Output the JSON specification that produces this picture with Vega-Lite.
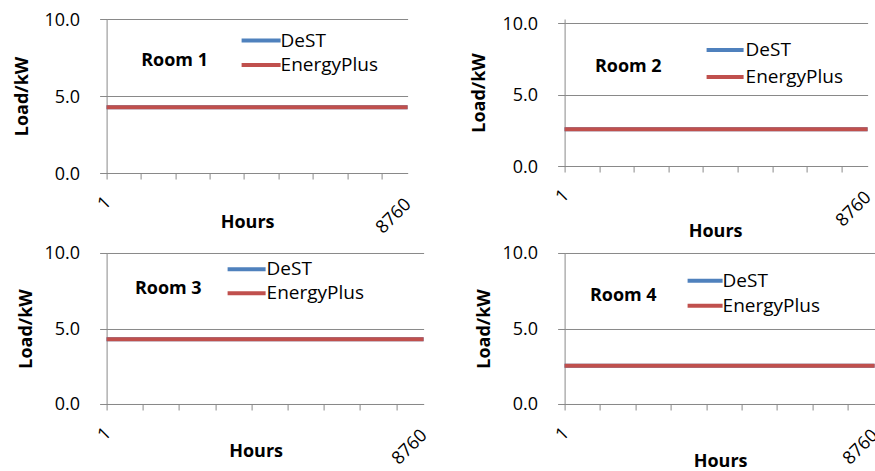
{
  "$schema": "https://vega.github.io/schema/vega-lite/v6.json",
  "padding": {"left": 13.6, "top": 11, "right": 0, "bottom": 0},
  "datasets": {
    "loads": [
      {"room": "Room 1", "series": "DeST", "hour": 1, "load": 4.27},
      {"room": "Room 1", "series": "DeST", "hour": 8760, "load": 4.27},
      {"room": "Room 1", "series": "EnergyPlus", "hour": 1, "load": 4.27},
      {"room": "Room 1", "series": "EnergyPlus", "hour": 8760, "load": 4.27},
      {"room": "Room 2", "series": "DeST", "hour": 1, "load": 2.57},
      {"room": "Room 2", "series": "DeST", "hour": 8760, "load": 2.57},
      {"room": "Room 2", "series": "EnergyPlus", "hour": 1, "load": 2.57},
      {"room": "Room 2", "series": "EnergyPlus", "hour": 8760, "load": 2.57},
      {"room": "Room 3", "series": "DeST", "hour": 1, "load": 4.29},
      {"room": "Room 3", "series": "DeST", "hour": 8760, "load": 4.29},
      {"room": "Room 3", "series": "EnergyPlus", "hour": 1, "load": 4.29},
      {"room": "Room 3", "series": "EnergyPlus", "hour": 8760, "load": 4.29},
      {"room": "Room 4", "series": "DeST", "hour": 1, "load": 2.53},
      {"room": "Room 4", "series": "DeST", "hour": 8760, "load": 2.53},
      {"room": "Room 4", "series": "EnergyPlus", "hour": 1, "load": 2.53},
      {"room": "Room 4", "series": "EnergyPlus", "hour": 8760, "load": 2.53}
    ]
  },
  "columns": 2,
  "spacing": {"column": 141, "row": 80},
  "bounds": "flush",
  "align": "all",
  "resolve": {"scale": {"color": "independent"}, "legend": {"color": "independent"}},
  "concat": [
    {
      "width": 301, "height": 154,
      "layer": [
        {
          "data": {"name": "loads"},
          "transform": [{"filter": "datum.room === 'Room 1'"}],
          "mark": {"type": "line", "strokeWidth": 4},
          "encoding": {
            "x": {"field": "hour", "type": "quantitative",
              "scale": {"domain": [1, 8760], "nice": false, "zero": false},
              "axis": {"title": "Hours", "values": [1, 1001, 2001, 3001, 4001, 5001, 6001, 7001, 8001, 8760], "tickCount": 100, "format": "d",
                "labelExpr": "datum.value == 1 ? '1' : (datum.value == 8760 ? '8760' : '')",
                "grid": false, "tickSize": 6,
                "tickOpacity": {"condition": {"test": "datum.value == 8760", "value": 0}, "value": 1},
                "labelOffset": {"condition": {"test": "datum.value == 1", "value": -5}, "value": -6},
                "labelPadding": {"condition": {"test": "datum.value == 1", "value": 14}, "value": 16},
                "labelAngle": -45, "labelAlign": "right", "labelBaseline": "top",
                "titleX": 140.5, "titleY": 54, "titleBaseline": "alphabetic", "titleAlign": "center"}},
            "y": {"field": "load", "type": "quantitative",
              "scale": {"domain": [0, 10], "nice": false},
              "axis": {"title": "Load/kW", "values": [0, 5, 10], "tickCount": 100, "format": ".1f", "grid": true, "tickSize": 7, "labelPadding": 20, "labelOffset": 1,
                "titleX": -78.7, "titleBaseline": "alphabetic", "titleAngle": -90, "titleAlign": "center"}},
            "color": {"field": "series", "type": "nominal",
              "scale": {"domain": ["DeST", "EnergyPlus"], "range": ["#4F81BD", "#C0504D"]},
              "legend": {"title": null, "orient": "none", "legendX": 133, "legendY": 11.5, "symbolSize": 1521, "labelOffset": -2, "rowPadding": 4.5, "clipHeight": 20}}
          }
        },
        {
          "data": {"values": [{"label": "Room 1"}]},
          "mark": {"type": "text", "align": "left", "baseline": "middle", "font": "Open Sans", "fontWeight": "bold", "fontSize": 18, "color": "#000000"},
          "encoding": {"x": {"datum": 1008, "type": "quantitative"}, "y": {"datum": 7.28, "type": "quantitative"}, "text": {"field": "label"}}
        }
      ]
    },
    {
      "width": 303, "height": 147,
      "layer": [
        {
          "data": {"name": "loads"},
          "transform": [{"filter": "datum.room === 'Room 2'"}],
          "mark": {"type": "line", "strokeWidth": 4},
          "encoding": {
            "x": {"field": "hour", "type": "quantitative",
              "scale": {"domain": [1, 8760], "nice": false, "zero": false},
              "axis": {"title": "Hours", "values": [1, 1001, 2001, 3001, 4001, 5001, 6001, 7001, 8001, 8760], "tickCount": 100, "format": "d",
                "labelExpr": "datum.value == 1 ? '1' : (datum.value == 8760 ? '8760' : '')",
                "grid": false, "tickSize": 6,
                "tickOpacity": {"condition": {"test": "datum.value == 8760", "value": 0}, "value": 1},
                "labelOffset": {"condition": {"test": "datum.value == 1", "value": -5}, "value": -6},
                "labelPadding": {"condition": {"test": "datum.value == 1", "value": 14}, "value": 16},
                "labelAngle": -45, "labelAlign": "right", "labelBaseline": "top",
                "titleX": 150.5, "titleY": 71, "titleBaseline": "alphabetic", "titleAlign": "center"}},
            "y": {"field": "load", "type": "quantitative",
              "scale": {"domain": [0, 10.28], "nice": false},
              "axis": {"title": "Load/kW", "values": [0, 5, 10], "tickCount": 100, "format": ".1f", "grid": true, "tickSize": 7, "labelPadding": 20, "labelOffset": 1,
                "titleX": -80, "titleBaseline": "alphabetic", "titleAngle": -90, "titleAlign": "center"}},
            "color": {"field": "series", "type": "nominal",
              "scale": {"domain": ["DeST", "EnergyPlus"], "range": ["#4F81BD", "#C0504D"]},
              "legend": {"title": null, "orient": "none", "legendX": 140, "legendY": 21, "symbolSize": 1369, "labelOffset": 0, "rowPadding": 7, "clipHeight": 20}}
          }
        },
        {
          "data": {"values": [{"label": "Room 2"}]},
          "mark": {"type": "text", "align": "left", "baseline": "middle", "font": "Open Sans", "fontWeight": "bold", "fontSize": 18, "color": "#000000"},
          "encoding": {"x": {"datum": 877, "type": "quantitative"}, "y": {"datum": 6.9, "type": "quantitative"}, "text": {"field": "label"}}
        }
      ]
    },
    {
      "width": 317, "height": 151,
      "layer": [
        {
          "data": {"name": "loads"},
          "transform": [{"filter": "datum.room === 'Room 3'"}],
          "mark": {"type": "line", "strokeWidth": 4},
          "encoding": {
            "x": {"field": "hour", "type": "quantitative",
              "scale": {"domain": [1, 8760], "nice": false, "zero": false},
              "axis": {"title": "Hours", "values": [1, 1001, 2001, 3001, 4001, 5001, 6001, 7001, 8001, 8760], "tickCount": 100, "format": "d",
                "labelExpr": "datum.value == 1 ? '1' : (datum.value == 8760 ? '8760' : '')",
                "grid": false, "tickSize": 6,
                "tickOpacity": {"condition": {"test": "datum.value == 8760", "value": 0}, "value": 1},
                "labelOffset": {"condition": {"test": "datum.value == 1", "value": -5}, "value": -6},
                "labelPadding": {"condition": {"test": "datum.value == 1", "value": 14}, "value": 16},
                "labelAngle": -45, "labelAlign": "right", "labelBaseline": "top",
                "titleX": 149, "titleY": 53, "titleBaseline": "alphabetic", "titleAlign": "center"}},
            "y": {"field": "load", "type": "quantitative",
              "scale": {"domain": [0, 10], "nice": false},
              "axis": {"title": "Load/kW", "values": [0, 5, 10], "tickCount": 100, "format": ".1f", "grid": true, "tickSize": 7, "labelPadding": 20, "labelOffset": 1,
                "titleX": -75.3, "titleBaseline": "alphabetic", "titleAngle": -90, "titleAlign": "center"}},
            "color": {"field": "series", "type": "nominal",
              "scale": {"domain": ["DeST", "EnergyPlus"], "range": ["#4F81BD", "#C0504D"]},
              "legend": {"title": null, "orient": "none", "legendX": 119, "legendY": 6.3, "symbolSize": 1444, "labelOffset": -1, "rowPadding": 4, "clipHeight": 20}}
          }
        },
        {
          "data": {"values": [{"label": "Room 3"}]},
          "mark": {"type": "text", "align": "left", "baseline": "middle", "font": "Open Sans", "fontWeight": "bold", "fontSize": 18, "color": "#000000"},
          "encoding": {"x": {"datum": 783, "type": "quantitative"}, "y": {"datum": 7.6, "type": "quantitative"}, "text": {"field": "label"}}
        }
      ]
    },
    {
      "width": 310, "height": 151,
      "layer": [
        {
          "data": {"name": "loads"},
          "transform": [{"filter": "datum.room === 'Room 4'"}],
          "mark": {"type": "line", "strokeWidth": 4},
          "encoding": {
            "x": {"field": "hour", "type": "quantitative",
              "scale": {"domain": [1, 8760], "nice": false, "zero": false},
              "axis": {"title": "Hours", "values": [1, 1001, 2001, 3001, 4001, 5001, 6001, 7001, 8001, 8760], "tickCount": 100, "format": "d",
                "labelExpr": "datum.value == 1 ? '1' : (datum.value == 8760 ? '8760' : '')",
                "grid": false, "tickSize": 6,
                "tickOpacity": {"condition": {"test": "datum.value == 8760", "value": 0}, "value": 1},
                "labelOffset": {"condition": {"test": "datum.value == 1", "value": -5}, "value": -6},
                "labelPadding": {"condition": {"test": "datum.value == 1", "value": 14}, "value": 16},
                "labelAngle": -45, "labelAlign": "right", "labelBaseline": "top",
                "titleX": 155.5, "titleY": 63, "titleBaseline": "alphabetic", "titleAlign": "center"}},
            "y": {"field": "load", "type": "quantitative",
              "scale": {"domain": [0, 10], "nice": false},
              "axis": {"title": "Load/kW", "values": [0, 5, 10], "tickCount": 100, "format": ".1f", "grid": true, "tickSize": 7, "labelPadding": 20, "labelOffset": 1,
                "titleX": -75, "titleBaseline": "alphabetic", "titleAngle": -90, "titleAlign": "center"}},
            "color": {"field": "series", "type": "nominal",
              "scale": {"domain": ["DeST", "EnergyPlus"], "range": ["#4F81BD", "#C0504D"]},
              "legend": {"title": null, "orient": "none", "legendX": 121, "legendY": 17.7, "symbolSize": 1225, "labelOffset": -2, "rowPadding": 5, "clipHeight": 20}}
          }
        },
        {
          "data": {"values": [{"label": "Room 4"}]},
          "mark": {"type": "text", "align": "left", "baseline": "middle", "font": "Open Sans", "fontWeight": "bold", "fontSize": 18, "color": "#000000"},
          "encoding": {"x": {"datum": 716, "type": "quantitative"}, "y": {"datum": 7.16, "type": "quantitative"}, "text": {"field": "label"}}
        }
      ]
    }
  ],
  "config": {
    "view": {"stroke": null},
    "font": "Open Sans",
    "background": "#ffffff",
    "axis": {
      "domainColor": "#898989", "domainWidth": 1,
      "tickColor": "#898989", "tickWidth": 1,
      "gridColor": "#898989", "gridWidth": 1,
      "labelFont": "Open Sans", "labelFontSize": 18, "labelColor": "#000000",
      "titleFont": "Open Sans", "titleFontSize": 18, "titleFontWeight": "bold", "titleColor": "#000000",
      "labelFlush": false, "labelOverlap": false, "labelBound": false
    },
    "legend": {
      "symbolType": "stroke", "symbolStrokeWidth": 4, "padding": 0,
      "labelFont": "Open Sans", "labelFontSize": 19, "labelColor": "#000000"
    }
  }
}
